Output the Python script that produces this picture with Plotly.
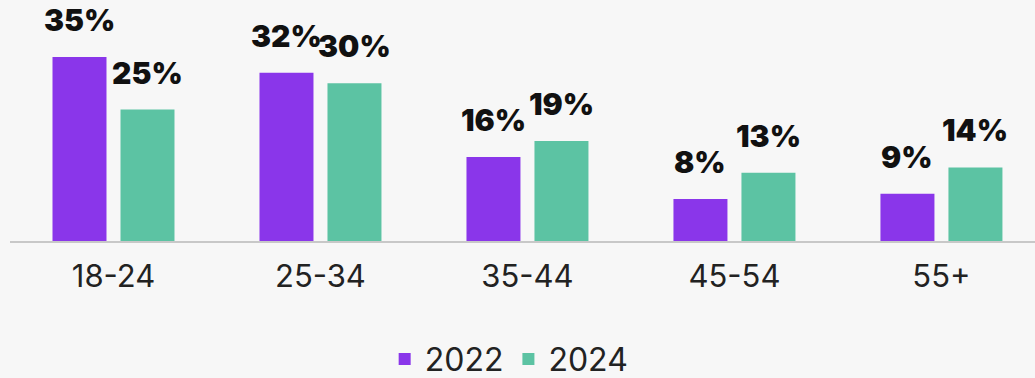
import plotly.graph_objects as go

categories = ["18-24", "25-34", "35-44", "45-54", "55+"]
series_names = ["2022", "2024"]
values_2022 = [35, 32, 16, 8, 9]
values_2024 = [25, 30, 19, 13, 14]
colors = ["#8A36EA", "#5CC3A3"]

fig = go.Figure()
for name, vals, col in zip(series_names, [values_2022, values_2024], colors):
    fig.add_trace(go.Bar(x=categories, y=vals, name=name, marker=dict(color=col, line=dict(width=0))))

annotations = []
for shift, vals in zip([-34, 34], [values_2022, values_2024]):
    for c, v in zip(categories, vals):
        annotations.append(dict(
            x=c, y=v, xref="x", yref="y", text=f"{v}%", showarrow=False,
            xshift=shift, yshift=17, yanchor="bottom",
            font=dict(family="Inter", size=30, color="#111111", weight=900),
        ))

fig.update_layout(
    width=1035, height=378,
    margin=dict(l=10, r=0, t=0, b=137),
    paper_bgcolor="#F7F7F7", plot_bgcolor="#F7F7F7",
    barmode="group", bargap=0.343, bargroupgap=0.206,
    showlegend=True,
    legend=dict(orientation="h", x=0.487, xanchor="center", yref="container", y=0.05, yanchor="middle",
                font=dict(family="Inter", size=32, color="#222222"), bgcolor="rgba(0,0,0,0)",
                itemwidth=30, tracegroupgap=0),
    annotations=annotations,
    xaxis=dict(range=[-0.5, 4.452], showline=True, linecolor="#C8C8C8", linewidth=2,
               showgrid=False, zeroline=False, ticks="", ticklabelstandoff=7,
               tickfont=dict(family="Inter", size=31, color="#222222")),
    yaxis=dict(range=[0, 45.84], visible=False, showgrid=False, zeroline=False),
)

fig.write_html("out.html")
